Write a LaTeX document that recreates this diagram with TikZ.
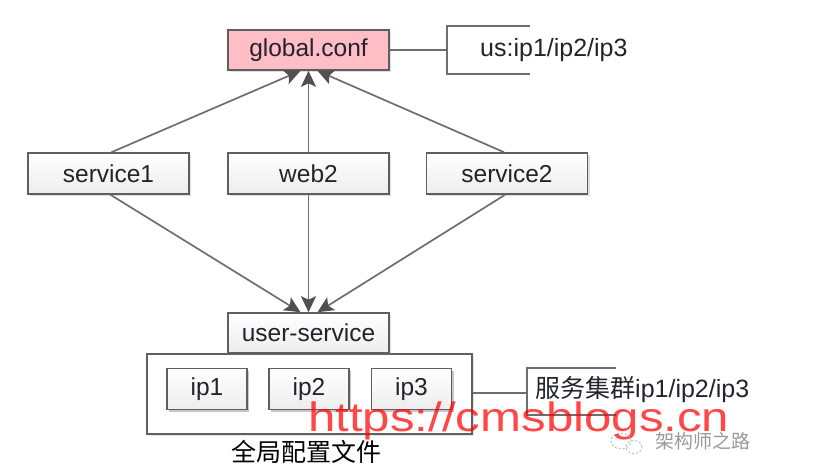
\documentclass[tikz,border=0pt]{standalone}
\usepackage{fontspec}
\setmainfont{Liberation Sans}
\newfontfamily\cjk{Noto Sans CJK SC}
\usetikzlibrary{arrows.meta,shadows}
\definecolor{boxline}{RGB}{95,95,95}
\definecolor{linkline}{RGB}{110,110,110}
\definecolor{headcol}{RGB}{80,80,80}
\definecolor{pinkfill}{RGB}{255,189,198}
\definecolor{txt}{RGB}{35,35,45}
\tikzset{
  basebox/.style={draw=boxline, line width=1.6pt, inner sep=0pt,
    minimum width=161pt, minimum height=41pt, text=txt,
    font=\fontsize{24.5}{28}\selectfont,
    drop shadow={shadow xshift=2pt, shadow yshift=-2pt, opacity=0.25, fill=gray}},
  svcbox/.style={basebox, top color=white, bottom color=gray!14},
  ipbox/.style={basebox, minimum width=80pt, minimum height=40pt},
  pinkbox/.style={basebox, fill=pinkfill, minimum height=40pt},
  link/.style={draw=linkline, line width=1.7pt},
  arr/.style={link, -{Stealth[length=16pt,width=15pt,inset=3.5pt,color=headcol]}},
  bracket/.style={draw=linkline, line width=1.6pt},
  note/.style={text=txt, inner sep=0pt, font=\fontsize{25}{30}\selectfont},
}
\begin{document}
\begin{tikzpicture}[x=1pt,y=-1pt]
\useasboundingbox[fill=white] (0,0) rectangle (838,472);

% top
\node[pinkbox] (global) at (308.5,50) {global.conf};
\node[svcbox] (s1) at (108.5,173.5) {service1};
\node[svcbox] (w2) at (308.5,173.5) {web2};
\node[svcbox] (s2) at (507,173.5) {service2};

% container
\node[draw=boxline, line width=1.6pt, minimum width=325pt, minimum height=80pt, inner sep=0pt,
  drop shadow={shadow xshift=2pt, shadow yshift=-2pt, opacity=0.2, fill=gray}, fill=white]
  (cont) at (309.5,394) {};
\node[svcbox, minimum height=40pt] (us) at (308.5,333) {user-service};
\node[ipbox, svcbox, minimum width=80pt] (ip1) at (207,389) {ip1};
\node[ipbox, svcbox, minimum width=80pt] (ip2) at (309,389) {ip2};
\node[ipbox, svcbox, minimum width=80pt] (ip3) at (411.5,389) {ip3};
\node[text=black, inner sep=0pt, font=\cjk\fontsize{25}{30}\selectfont] (label) at (306,452) {全局配置文件};

% arrows up
\coordinate (g1) at ([xshift=-8pt]global.south);
\coordinate (g3) at ([xshift=9pt]global.south);
\draw[arr] ([xshift=3pt]s1.north) -- (g1);
\draw[arr] (w2.north) -- (global.south);
\draw[arr] ([xshift=-3pt]s2.north) -- (g3);

% arrows down
\coordinate (u1) at ([xshift=-8pt]us.north);
\coordinate (u3) at ([xshift=9pt]us.north);
\draw[arr] ([xshift=2pt]s1.south) -- (u1);
\draw[arr] (w2.south) -- (us.north);
\draw[arr] ([xshift=-2pt]s2.south) -- (u3);

% annotation top
\coordinate (b1) at (447,50);
\draw[link] (global.east) -- (b1);
\draw[bracket] (530,26) -- (447,26) -- (447,74) -- (530,74);
\node[note, anchor=west] (usnote) at (480,50) {us:ip1/ip2/ip3};

% annotation bottom
\coordinate (b2) at (527,393);
\draw[link] (cont.east |- b2) -- (b2);
\draw[bracket] (616,368) -- (527,368) -- (527,415) -- (616,415);
\node[note, anchor=west] (clnote) at (535,390) {{\cjk 服务集群}ip1/ip2/ip3};

% watermark
\node[anchor=base west, inner sep=0pt, text=red, opacity=0.72, xscale=1.2,
  font=\fontsize{41}{44}\selectfont] (wm) at (308,431) {https://cmsblogs.cn};
\draw[gray!60, line width=0.8pt, dash pattern=on 2pt off 2pt] (621,441) ellipse [x radius=10pt, y radius=8pt];
\draw[gray!60, line width=0.8pt, dash pattern=on 2pt off 2pt] (634,447) ellipse [x radius=8pt, y radius=6.5pt];
\node[anchor=west, inner sep=0pt, text=gray!80, font=\cjk\fontsize{19}{22}\selectfont] (wx) at (655,441) {架构师之路};
\end{tikzpicture}
\end{document}
